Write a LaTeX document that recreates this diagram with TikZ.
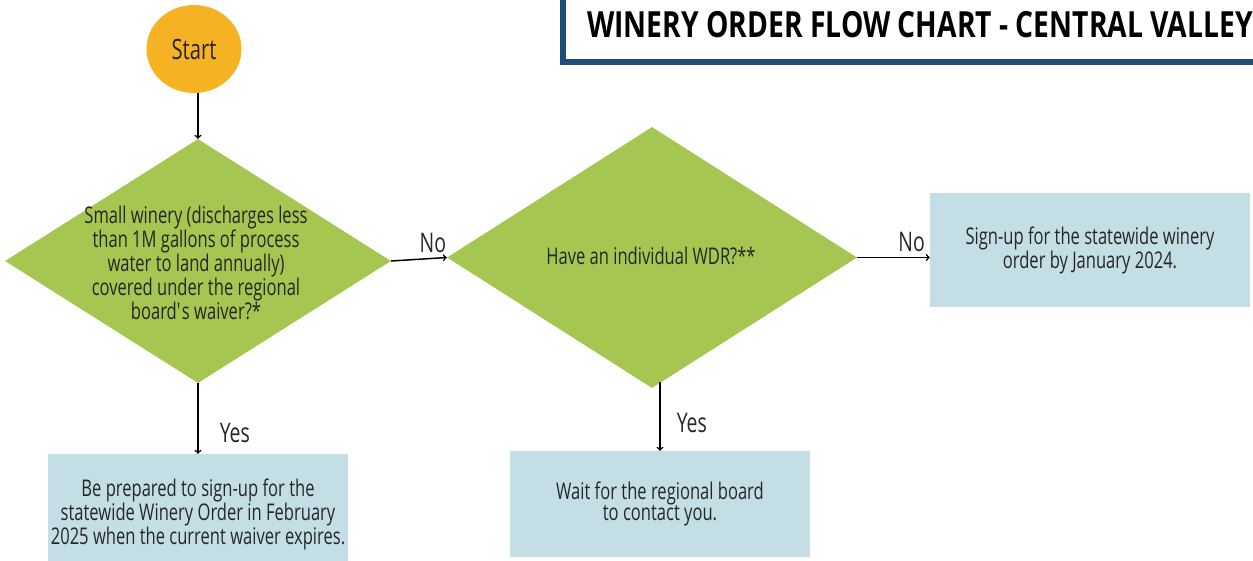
\documentclass[tikz,border=0pt]{standalone}
\usepackage{fontspec}
\setmainfont[FakeStretch=0.72]{Open Sans}
\newfontfamily\bannerfont[FakeStretch=0.785]{Open Sans}
\usetikzlibrary{shapes.geometric}
\definecolor{startorange}{HTML}{F5B324}
\definecolor{choicegreen}{HTML}{A5C651}
\definecolor{stepblue}{HTML}{C4DEE6}
\definecolor{titleblue}{HTML}{1D4E79}
\definecolor{inkgray}{HTML}{262626}
\tikzset{
  decision/.style={diamond, fill=choicegreen, inner sep=0pt},
  stepbox/.style={rectangle, fill=stepblue, inner sep=0pt, text=inkgray, align=center,
    font=\fontsize{23}{19.5}\selectfont},
  qtext/.style={text=inkgray, align=center, inner sep=0pt, font=\fontsize{23}{19.8}\selectfont},
  answer/.style={text=inkgray, inner sep=0pt, font=\fontsize{27}{27}\selectfont},
  flow/.style={->, line width=1.5pt}
}

\begin{document}
\begin{tikzpicture}[x=1pt,y=-1pt]
  \useasboundingbox (0,0) rectangle (1253,560);
  \clip (0,0) rectangle (1253,560);
  % title banner (runs off the right edge)
  \draw[titleblue, line width=6pt, fill=white] (563,-20) rectangle (1300,62);
  \node[anchor=base west, inner sep=0pt, font=\fontsize{36}{36}\bannerfont\bfseries] (title) at (587,37)
    {WINERY ORDER FLOW CHART - CENTRAL VALLEY};
  % start
  \node[ellipse, fill=startorange, minimum width=95pt, minimum height=88pt, inner sep=0pt,
    text=inkgray, font=\fontsize{28}{28}\selectfont] (start) at (194,49) {Start};
  % decisions
  \node[decision, minimum width=386pt, minimum height=244pt] (small) at (198,261) {};
  \node[qtext] (smallq) at (196,263) {Small winery (discharges less\\than 1M gallons of process\\water to land annually)\\ covered under the regional\\board\textquotesingle s waiver?*};
  \node[decision, minimum width=410pt, minimum height=261pt] (wdr) at (652,257.5) {};
  \node[qtext] (wdrq) at (651,256) {Have an individual WDR?**};
  % outcomes
  \node[stepbox, minimum width=300pt, minimum height=120pt] (waiver) at (198,514)
    {Be prepared to sign-up for the\\statewide Winery Order in February\\2025 when the current waiver expires.};
  \node[stepbox, minimum width=300pt, minimum height=106pt] (wait) at (660,504)
    {Wait for the regional board\\to contact you.};
  \node[stepbox, minimum width=320pt, minimum height=114pt] (signup) at (1090,250)
    {Sign-up for the statewide winery\\order by January 2024.};
  % connectors
  \draw[flow] (small.north |- start.south) -- (small.north);
  \draw[flow] (small.east) -- (wdr.west) node[answer, pos=0.75, above=5pt] (no1) {No};
  \draw[flow] (wdr.east) -- (wdr.east -| signup.west) node[answer, pos=0.75, above=5pt] (no2) {No};
  \draw[flow] (small.south) -- (waiver.north) node[answer, pos=0.7, anchor=west, xshift=21pt] (yes1) {Yes};
  \draw[flow] ([yshift=6pt]wait.north |- wdr.south) -- (wait.north) node[answer, pos=0.6, anchor=west, xshift=16pt] (yes2) {Yes};
\end{tikzpicture}
\end{document}
